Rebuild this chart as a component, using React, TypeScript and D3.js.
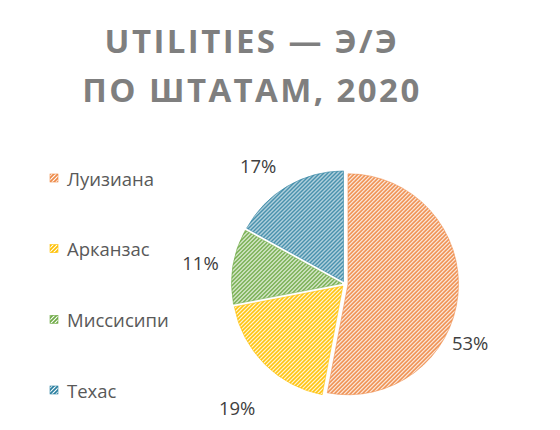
import React, { useEffect } from "react";
import * as d3 from "d3";

const categories = ["Луизиана", "Арканзас", "Миссисипи", "Техас"];
const values = [53, 19, 11, 17];
const percentLabels = ["53%", "19%", "11%", "17%"];
const titleLines = ["UTILITIES — Э/Э", "ПО ШТАТАМ, 2020"];

const colors = ["#EE8A48", "#FFC000", "#6EAA45", "#2A7FA0"];
// label placement layout: angle shift (deg) from slice mid-angle, and radius
const labelLayout = [
  { da: 19.5, r: 138 },
  { da: -3.9, r: 164 },
  { da: -0.7, r: 146 },
  { da: -5.6, r: 147 },
];

const W = 560;
const H = 430;
const CX = 345;
const CY = 284;
const R = 110.5;
const EXPLODE = 3;

export default function App() {
  useEffect(() => {
    document.body.style.margin = "0";
  }, []);

  const pie = d3.pie<number>().sort(null).value((d) => d);
  const arcs = pie(values);
  const arcGen = d3.arc<d3.PieArcDatum<number>>().innerRadius(0).outerRadius(R);

  const legendY = d3
    .scalePoint<string>()
    .domain(categories)
    .range([178, 390]);

  return (
    <svg width={W} height={H} style={{ display: "block" }}>
      <defs>
        {colors.map((c, i) => (
          <pattern
            key={i}
            id={`hatch${i}`}
            patternUnits="userSpaceOnUse"
            width={4}
            height={4}
          >
            <rect width={4} height={4} fill="#ffffff" />
            <path
              d="M-1,1 l2,-2 M0,4 l4,-4 M3,5 l2,-2"
              stroke={c}
              strokeWidth={1.7}
            />
          </pattern>
        ))}
      </defs>
      <rect width={W} height={H} fill="#ffffff" />
      <g
        fontFamily="'Open Sans', sans-serif"
        fontWeight={700}
        fontSize={33}
        fill="#7F7F7F"
        textAnchor="middle"
        letterSpacing={2.4}
      >
        <text x={252} y={53}>{titleLines[0]}</text>
        <text x={252} y={102}>{titleLines[1]}</text>
      </g>

      <g>
        {arcs.map((a, i) => {
          const mid = (a.startAngle + a.endAngle) / 2;
          const dx = Math.sin(mid) * EXPLODE;
          const dy = -Math.cos(mid) * EXPLODE;
          return (
            <path
              key={i}
              d={arcGen(a) || ""}
              transform={`translate(${CX + dx},${CY + dy})`}
              fill={`url(#hatch${i})`}
              stroke={colors[i]}
              strokeOpacity={0.7}
              strokeWidth={0.8}
            />
          );
        })}
      </g>

      <g
        fontFamily="'Open Sans', sans-serif"
        fontSize={18.5}
        fill="#404040"
        textAnchor="middle"
        dominantBaseline="central"
      >
        {arcs.map((a, i) => {
          const mid = (a.startAngle + a.endAngle) / 2 + (labelLayout[i].da * Math.PI) / 180;
          const r = labelLayout[i].r;
          return (
            <text key={i} x={CX + Math.sin(mid) * r} y={CY - Math.cos(mid) * r}>
              {percentLabels[i]}
            </text>
          );
        })}
      </g>

      <g fontFamily="'Open Sans', sans-serif" fontSize={18.5} fill="#595959">
        {categories.map((c, i) => {
          const y = legendY(c) || 0;
          return (
            <g key={c}>
              <rect x={50} y={y - 4} width={8} height={8} fill={`url(#hatch${i})`} stroke={colors[i]} strokeWidth={0.6} />
              <text x={67} y={y} dominantBaseline="central">{c}</text>
            </g>
          );
        })}
      </g>
    </svg>
  );
}
